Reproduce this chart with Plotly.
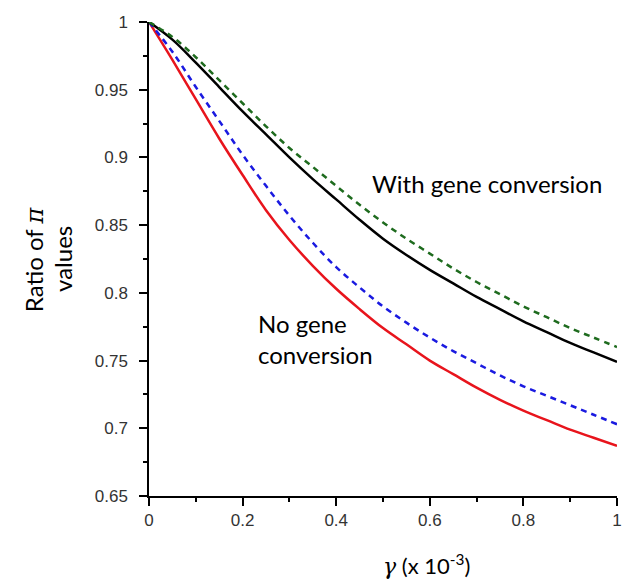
import plotly.graph_objects as go

gamma = [0, 0.05, 0.1, 0.15, 0.2, 0.25, 0.3, 0.35, 0.4, 0.45, 0.5,
         0.55, 0.6, 0.65, 0.7, 0.75, 0.8, 0.85, 0.9, 0.95, 1.0]

red_no_gc = [1, 0.972, 0.943, 0.914, 0.887, 0.861, 0.839, 0.820, 0.803, 0.788, 0.774,
             0.762, 0.750, 0.740, 0.730, 0.721, 0.713, 0.706, 0.699, 0.693, 0.687]
blue_no_gc = [1, 0.978, 0.952, 0.927, 0.902, 0.879, 0.857, 0.837, 0.819, 0.804, 0.790,
              0.778, 0.767, 0.757, 0.748, 0.739, 0.731, 0.724, 0.717, 0.710, 0.703]
black_gc = [1, 0.987, 0.970, 0.952, 0.934, 0.917, 0.900, 0.884, 0.869, 0.854, 0.840,
            0.828, 0.817, 0.807, 0.797, 0.788, 0.779, 0.771, 0.763, 0.756, 0.749]
green_gc = [1, 0.989, 0.974, 0.957, 0.940, 0.923, 0.907, 0.893, 0.879, 0.865, 0.852,
            0.840, 0.829, 0.818, 0.808, 0.799, 0.790, 0.782, 0.774, 0.767, 0.760]

x_ticks = [0, 0.2, 0.4, 0.6, 0.8, 1]
x_labels = ["0", "0.2", "0.4", "0.6", "0.8", "1"]
y_ticks = [0.65, 0.7, 0.75, 0.8, 0.85, 0.9, 0.95, 1]
y_labels = ["0.65", "0.7", "0.75", "0.8", "0.85", "0.9", "0.95", "1"]

fig = go.Figure()
fig.add_trace(go.Scatter(x=gamma, y=red_no_gc, mode="lines", line=dict(color="#e8141c", width=2.5, shape="spline")))
fig.add_trace(go.Scatter(x=gamma, y=blue_no_gc, mode="lines", line=dict(color="#1a1ae0", width=2.5, dash="6px,5px", shape="spline")))
fig.add_trace(go.Scatter(x=gamma, y=black_gc, mode="lines", line=dict(color="#000000", width=2.5, shape="spline")))
fig.add_trace(go.Scatter(x=gamma, y=green_gc, mode="lines", line=dict(color="#1e6b1e", width=2.5, dash="6px,5px", shape="spline")))

tickfont = dict(family="Liberation Sans, Arial, sans-serif", size=17, color="#333333")
fig.update_layout(
    width=626, height=585,
    margin=dict(l=149, r=4, t=22, b=89),
    paper_bgcolor="white", plot_bgcolor="white",
    showlegend=False,
    xaxis=dict(range=[0, 1], tickvals=x_ticks, ticktext=x_labels, showgrid=False, zeroline=False,
               showline=True, linecolor="black", linewidth=1.5, ticks="outside", ticklen=8,
               tickcolor="black", tickwidth=1.5, tickfont=tickfont, ticklabelstandoff=0,
               ticklabeloverflow="allow",
               minor=dict(tickvals=[0.1, 0.3, 0.5, 0.7, 0.9], ticks="outside", ticklen=4,
                          tickcolor="black", tickwidth=1.5)),
    yaxis=dict(range=[0.65, 1], tickvals=y_ticks, ticktext=y_labels, showgrid=False, zeroline=False,
               showline=True, linecolor="black", linewidth=1.5, ticks="outside", ticklen=8,
               tickcolor="black", tickwidth=1.5, tickfont=tickfont, ticklabelstandoff=8,
               ticklabeloverflow="allow",
               minor=dict(tickvals=[0.675, 0.725, 0.775, 0.825, 0.875, 0.925, 0.975], ticks="outside",
                          ticklen=4, tickcolor="black", tickwidth=1.5)),
)

labfont = dict(family="Lato, Open Sans, sans-serif", size=24, color="black")
fig.add_annotation(x=0.472, y=0.8805, xref="x", yref="y", text="With gene conversion",
                   showarrow=False, xanchor="left", yanchor="middle", font=labfont)
fig.add_annotation(x=0.2286, y=0.766, xref="x", yref="y", text="No gene<br>conversion",
                   showarrow=False, xanchor="left", yanchor="middle", align="left", font=labfont)

# page pixel -> paper coords (plot area spans x 149..622, y 22..496)
def px_to_paper(px, py):
    return (px - 149) / 473, 1 - (py - 22) / 474

ax, ay = px_to_paper(33, 259)
fig.add_annotation(x=ax, y=ay, xref="paper", yref="paper", xanchor="center", yanchor="middle",
                   text="Ratio of <i><span style='font-family:DejaVu Serif'>π</span></i>",
                   showarrow=False, textangle=-90, font=labfont)
ax, ay = px_to_paper(61, 259)
fig.add_annotation(x=ax, y=ay, xref="paper", yref="paper", xanchor="center", yanchor="middle",
                   text="values", showarrow=False, textangle=-90, font=labfont)
ax, ay = px_to_paper(429, 564)
fig.add_annotation(x=ax, y=ay, xref="paper", yref="paper", xanchor="center", yanchor="middle",
                   text="<i><span style='font-family:DejaVu Serif'>γ</span></i> (x 10<sup>-3</sup>)",
                   showarrow=False, font=dict(family="Lato, Open Sans, sans-serif", size=22, color="black"))

fig.write_html("out.html", config={"displayModeBar": False},
               post_script="document.body.style.margin='0px';document.body.style.overflow='hidden';")
